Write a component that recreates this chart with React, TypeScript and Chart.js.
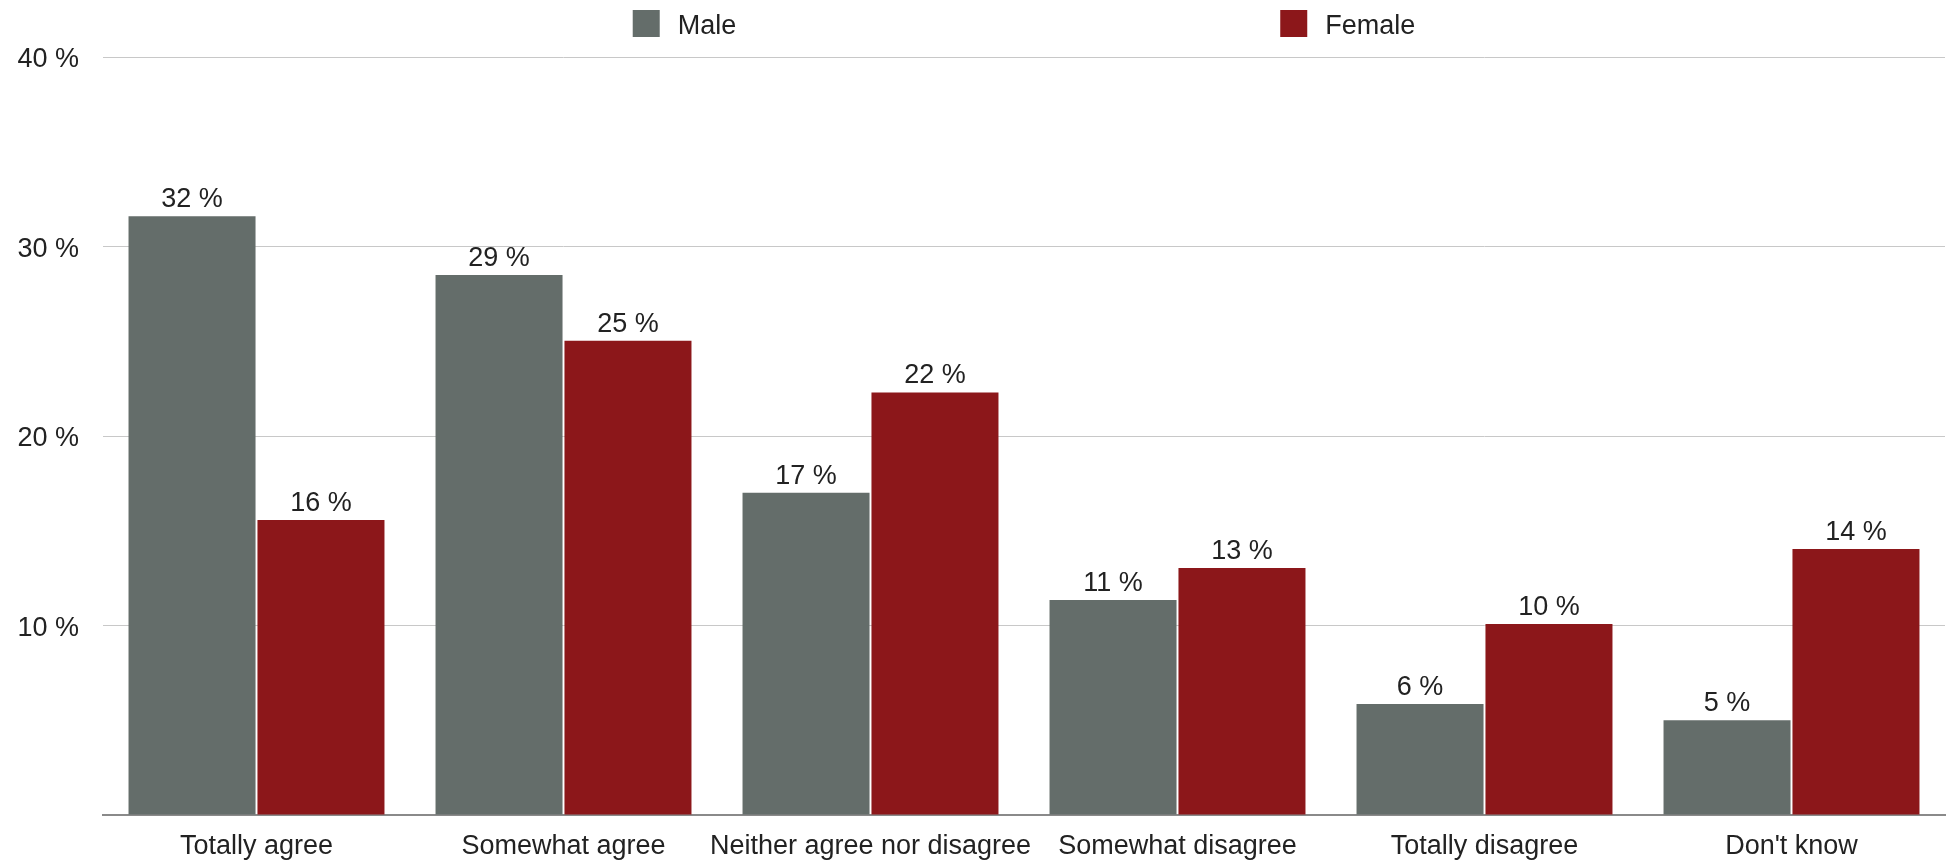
import { useEffect, useRef } from 'react';
import { Chart, registerables } from 'chart.js';

Chart.register(...registerables);

// Survey answers, split by respondent gender (shares in percent)
const categories = [
  'Totally agree',
  'Somewhat agree',
  'Neither agree nor disagree',
  'Somewhat disagree',
  'Totally disagree',
  "Don't know",
];
const maleValues = [31.6, 28.5, 17.0, 11.35, 5.86, 5.0];
const femaleValues = [15.57, 25.03, 22.3, 13.03, 10.08, 14.04];
const yTickValues = [0, 10, 20, 30, 40];
const seriesNames = ['Male', 'Female'];

const MALE_COLOR = '#646d6a';
const FEMALE_COLOR = '#8c171a';
const TEXT_COLOR = '#222222';
const FONT_FAMILY = '"Liberation Sans", Arial, Helvetica, sans-serif';
const FONT_SIZE = 27;

const pct = (v: number) => `${Math.round(v)} %`;

// Value labels above each bar
const valueLabels = {
  id: 'valueLabels',
  afterDatasetsDraw(chart: any) {
    const { ctx } = chart;
    ctx.save();
    ctx.font = `${FONT_SIZE}px ${FONT_FAMILY}`;
    ctx.fillStyle = TEXT_COLOR;
    ctx.textAlign = 'center';
    ctx.textBaseline = 'alphabetic';
    chart.data.datasets.forEach((ds: any, di: number) => {
      const meta = chart.getDatasetMeta(di);
      meta.data.forEach((bar: any, i: number) => {
        ctx.fillText(pct(ds.data[i]), bar.x, bar.y - 9);
      });
    });
    ctx.restore();
  },
};

// Legend centred over the plot area, items spread far apart
const wideLegend = {
  id: 'wideLegend',
  afterDraw(chart: any) {
    const { ctx, chartArea } = chart;
    const box = 27;
    const textGap = 18;
    const itemGap = 544;
    ctx.save();
    ctx.font = `${FONT_SIZE}px ${FONT_FAMILY}`;
    const items = chart.data.datasets.map((ds: any) => ({
      label: ds.label,
      color: ds.backgroundColor,
      w: box + textGap + ctx.measureText(ds.label).width,
    }));
    const total =
      items.reduce((s: number, it: any) => s + it.w, 0) + itemGap * (items.length - 1);
    let x = (chartArea.left + chartArea.right) / 2 - total / 2;
    const cy = 23.5;
    items.forEach((it: any) => {
      ctx.fillStyle = it.color;
      ctx.fillRect(x, cy - box / 2, box, box);
      ctx.fillStyle = TEXT_COLOR;
      ctx.textAlign = 'left';
      ctx.textBaseline = 'middle';
      ctx.fillText(it.label, x + box + textGap, cy + 3);
      x += it.w + itemGap;
    });
    ctx.restore();
  },
};

export default function App() {
  const canvasRef = useRef<HTMLCanvasElement | null>(null);

  useEffect(() => {
    if (!canvasRef.current) return;
    const chart = new Chart(canvasRef.current, {
      type: 'bar',
      data: {
        labels: categories,
        datasets: [
          {
            label: seriesNames[0],
            data: maleValues,
            backgroundColor: MALE_COLOR,
            categoryPercentage: 0.84,
            barPercentage: 0.985,
          },
          {
            label: seriesNames[1],
            data: femaleValues,
            backgroundColor: FEMALE_COLOR,
            categoryPercentage: 0.84,
            barPercentage: 0.985,
          },
        ],
      },
      options: {
        responsive: false,
        animation: false,
        layout: { padding: { top: 57, right: 3, left: 0, bottom: 0 } },
        plugins: {
          legend: { display: false },
          tooltip: { enabled: false },
        },
        scales: {
          x: {
            z: 1,
            grid: { display: false, drawTicks: false },
            border: { display: true, color: '#8a8a8a', width: 2 },
            ticks: {
              color: TEXT_COLOR,
              font: { family: FONT_FAMILY, size: FONT_SIZE },
              padding: 15,
              maxRotation: 0,
              minRotation: 0,
              autoSkip: false,
            },
            afterFit(scale: any) {
              scale.height = 47;
            },
          },
          y: {
            min: 0,
            max: 40,
            afterBuildTicks(scale: any) {
              scale.ticks = yTickValues.map((v) => ({ value: v }));
            },
            grid: {
              drawTicks: false,
              lineWidth: 1,
              color: (c: any) => (c.tick && c.tick.value === 0 ? 'rgba(0,0,0,0)' : '#c8c8c8'),
            },
            border: { display: false },
            ticks: {
              color: TEXT_COLOR,
              font: { family: FONT_FAMILY, size: FONT_SIZE },
              padding: 24,
              labelOffset: 3,
              callback: (v: any) => (Number(v) === 0 ? '' : `${v} %`),
            },
            afterFit(scale: any) {
              scale.width = 103;
            },
          },
        },
      },
      plugins: [valueLabels, wideLegend],
    });
    return () => chart.destroy();
  }, []);

  return (
    <div style={{ position: 'fixed', left: 0, top: 0, width: 1948, height: 862, background: '#fff' }}>
      <canvas ref={canvasRef} width={1948} height={862} style={{ display: 'block' }} />
    </div>
  );
}
